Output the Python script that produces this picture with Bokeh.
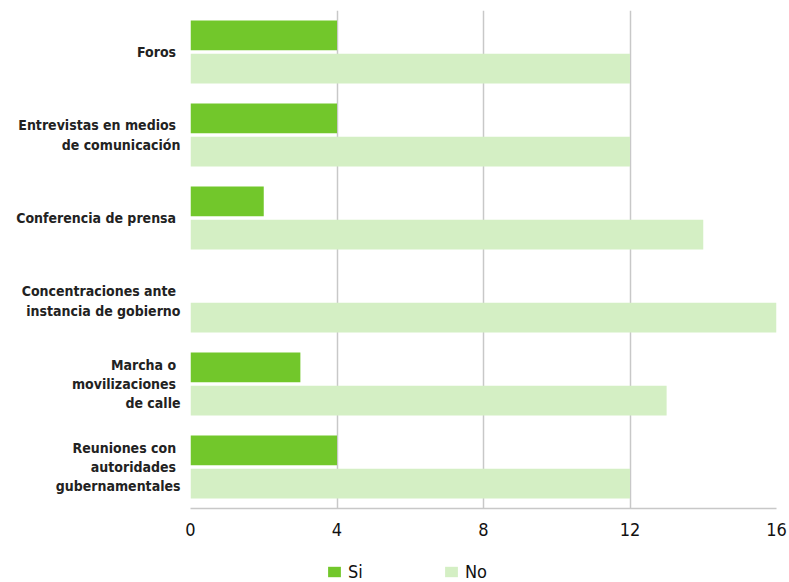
from bokeh.plotting import figure
from bokeh.models import ColumnDataSource, FactorRange, Range1d, Legend, LegendItem, FixedTicker
from bokeh.layouts import column
from bokeh.transform import dodge
from bokeh.embed import file_html
from bokeh.resources import INLINE

categories = [
    "Foros ",
    "Entrevistas en medios \nde comunicación",
    "Conferencia de prensa ",
    "Concentraciones ante \ninstancia de gobierno",
    "Marcha o \nmovilizaciones \nde calle",
    "Reuniones con \nautoridades \ngubernamentales",
]
si_values = [4, 4, 2, 0, 3, 4]
no_values = [12, 12, 14, 16, 13, 12]
x_ticks = [0, 4, 8, 12, 16]
series_names = ["Si", "No"]

SI_COLOR = "#72c72b"
NO_COLOR = "#d4efc4"
FONT = "DejaVu Sans Condensed"

source = ColumnDataSource(dict(cat=categories, si=si_values, no=no_values))

main = figure(
    width=789, height=556,
    y_range=FactorRange(factors=categories[::-1], range_padding=0),
    x_range=Range1d(0, 16),
    output_backend="svg", toolbar_location=None,
    min_border_left=190, min_border_right=13, min_border_top=10, min_border_bottom=48,
)

main.hbar(y=dodge("cat", 0.20, range=main.y_range), right="si", left=0, height=0.36,
          source=source, color=SI_COLOR, line_color=None)
main.hbar(y=dodge("cat", -0.20, range=main.y_range), right="no", left=0, height=0.36,
          source=source, color=NO_COLOR, line_color=None)

main.outline_line_color = None
main.ygrid.grid_line_color = None
main.xgrid.grid_line_color = "#c8c8c8"
main.xgrid.grid_line_width = 1.5
main.xaxis.ticker = FixedTicker(ticks=x_ticks)
main.xaxis.axis_line_color = "#c8c8c8"
main.xaxis.axis_line_width = 1.5
main.xaxis.major_tick_line_color = None
main.xaxis.minor_tick_line_color = None
main.xaxis.major_label_text_font = FONT
main.xaxis.major_label_text_font_size = "18px"
main.xaxis.major_label_text_color = "#111111"
main.xaxis.major_label_standoff = 8

main.yaxis.axis_line_color = None
main.yaxis.major_tick_line_color = None
main.yaxis.minor_tick_line_color = None
main.yaxis.major_label_text_font = FONT
main.yaxis.major_label_text_font_style = "bold"
main.yaxis.major_label_text_font_size = "14px"
main.yaxis.major_label_text_color = "#222222"
main.yaxis.major_label_standoff = 4

# legend strip below the chart (frames are aligned by the column layout)
leg = figure(
    width=789, height=26, output_backend="svg", toolbar_location=None,
    x_range=main.x_range, y_range=FactorRange(factors=categories[::-1], range_padding=0),
    min_border_left=0, min_border_right=0, min_border_top=0, min_border_bottom=0,
)
leg.axis.visible = False
leg.grid.grid_line_color = None
leg.outline_line_color = None
r_si = leg.hbar(y="cat", right="si", left=0, height=0.36, source=source,
                color=SI_COLOR, line_color=None)
r_no = leg.hbar(y="cat", right="no", left=0, height=0.36, source=source,
                color=NO_COLOR, line_color=None)
r_si.visible = False
r_no.visible = False

legend = Legend(
    items=[LegendItem(label=series_names[0], renderers=[r_si]),
           LegendItem(label=series_names[1], renderers=[r_no])],
    orientation="horizontal",
    location=(136, 0),
    padding=0, margin=0, spacing=75,
    glyph_width=16, glyph_height=13, label_standoff=6,
    border_line_color=None, background_fill_alpha=0,
    label_text_font=FONT, label_text_font_size="18px", label_text_color="#111111",
)
leg.add_layout(legend, "center")

p = column(main, leg, spacing=0)

open("out.html", "w").write(file_html(p, INLINE))
